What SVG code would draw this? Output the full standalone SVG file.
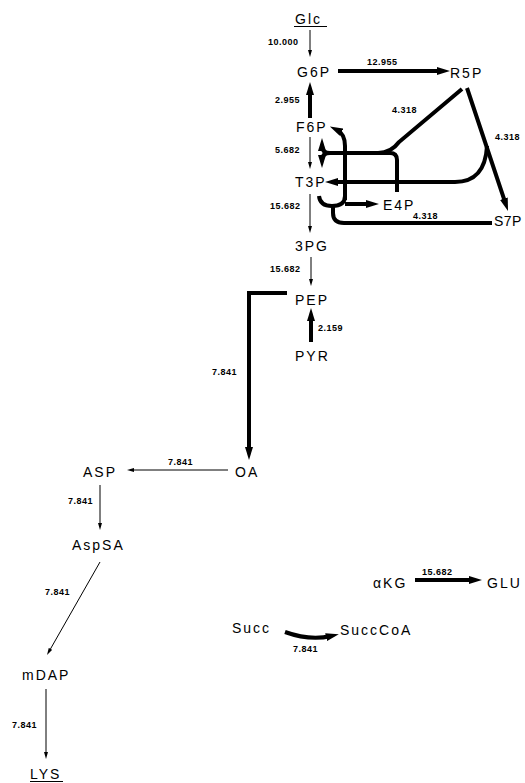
<svg xmlns="http://www.w3.org/2000/svg" width="525" height="783" viewBox="0 0 525 783">
<style>
.n{font-family:"Liberation Sans","DejaVu Sans",sans-serif;font-size:14px;letter-spacing:2px;fill:#000}
.v{font-family:"Liberation Sans","DejaVu Sans",sans-serif;font-size:9px;font-weight:bold;letter-spacing:0.5px;fill:#000}
.th{fill:none;stroke:#000;stroke-width:1}
.tk{fill:none;stroke:#000;stroke-width:4}
</style>
<defs>
<marker id="ak" markerUnits="userSpaceOnUse" markerWidth="13" markerHeight="8" refX="5" refY="4" orient="auto"><path d="M0,0 L13,4 L0,8 z" fill="#000"/></marker>
<marker id="an" markerUnits="userSpaceOnUse" markerWidth="7" markerHeight="4" refX="3" refY="2" orient="auto"><path d="M0,0 L7,2 L0,4 z" fill="#000"/></marker>
</defs>
<rect width="525" height="783" fill="#fff"/>
<g id="connectors">
<path class="th" d="M310,30 L310,53" marker-end="url(#an)"/>
<path class="tk" d="M338,71 L442,71" marker-end="url(#ak)"/>
<path class="tk" d="M310,118 L310,90" marker-end="url(#ak)"/>
<path class="th" d="M310,137 L310,165" marker-end="url(#an)"/>
<path class="th" d="M310,194 L310,229" marker-end="url(#an)"/>
<path class="th" d="M311,257 L311,282" marker-end="url(#an)"/>
<path class="tk" d="M311,342 L311,316" marker-end="url(#ak)"/>
<path class="tk" d="M287,293 L249,293 L249,452" marker-end="url(#ak)"/>
<path class="th" d="M228,470 L131,470" marker-end="url(#an)"/>
<path class="th" d="M100,485 L100,526" marker-end="url(#an)"/>
<path class="th" d="M100,562 L49,651.5" marker-end="url(#an)"/>
<path class="th" d="M46,689 L46,755" marker-end="url(#an)"/>
<path class="tk" d="M415,580 L474,580" marker-end="url(#ak)"/>
<path class="tk" d="M285,632 Q310,641 331,636" marker-end="url(#ak)"/>
<path class="tk" d="M467,88 L505.5,203.4" marker-end="url(#ak)"/>
<path class="tk" d="M462,89 L399,142 Q391,153 378,153"/>
<path class="tk" d="M330,153 L390,153 Q397,153 397,160 L397,192"/>
<path class="tk" d="M330,153 Q322,153 322,146" marker-end="url(#ak)"/>
<path class="tk" d="M330,153 Q322,153 322,160" marker-end="url(#ak)"/>
<path class="tk" d="M487,146 Q485,182 455,182 L333,182" marker-end="url(#ak)"/>
<path class="tk" d="M345,200 L345,146 Q345,134 337,130" marker-end="url(#ak)"/>
<path class="tk" d="M319,196 Q320,206 332,206 Q345,206 345,196"/>
<path class="tk" d="M345,204 L371,204" marker-end="url(#ak)"/>
<path class="tk" d="M492,223 L344,223 Q333,223 333,213 L333,206"/>
</g>
<g id="labels">
<text class="v" x="268" y="45">10.000</text>
<text class="v" x="367" y="65">12.955</text>
<text class="v" x="275" y="103">2.955</text>
<text class="v" x="392" y="113">4.318</text>
<text class="v" x="275" y="153">5.682</text>
<text class="v" x="495" y="140">4.318</text>
<text class="v" x="413" y="219">4.318</text>
<text class="v" x="270" y="209">15.682</text>
<text class="v" x="270" y="272">15.682</text>
<text class="v" x="318" y="331">2.159</text>
<text class="v" x="212" y="375">7.841</text>
<text class="v" x="168" y="465">7.841</text>
<text class="v" x="68" y="504">7.841</text>
<text class="v" x="45" y="595">7.841</text>
<text class="v" x="12" y="728">7.841</text>
<text class="v" x="422" y="575">15.682</text>
<text class="v" x="293" y="652">7.841</text>
</g>
<g id="Glc"><text class="n" x="295" y="24">Glc</text><line x1="294" y1="26.5" x2="327" y2="26.5" stroke="#000" stroke-width="1"/></g>
<g id="G6P"><text class="n" x="297" y="77">G6P</text></g>
<g id="R5P"><text class="n" x="450" y="78">R5P</text></g>
<g id="F6P"><text class="n" x="296" y="132">F6P</text></g>
<g id="T3P"><text class="n" x="295" y="187">T3P</text></g>
<g id="E4P"><text class="n" x="383" y="210">E4P</text></g>
<g id="S7P"><text class="n" x="494" y="226" style="letter-spacing:0.5px">S7P</text></g>
<g id="3PG"><text class="n" x="295" y="251">3PG</text></g>
<g id="PEP"><text class="n" x="295" y="305">PEP</text></g>
<g id="PYR"><text class="n" x="295" y="361">PYR</text></g>
<g id="OA"><text class="n" x="235" y="477">OA</text></g>
<g id="ASP"><text class="n" x="83" y="477">ASP</text></g>
<g id="AspSA"><text class="n" x="72" y="550">AspSA</text></g>
<g id="mDAP"><text class="n" x="22" y="680">mDAP</text></g>
<g id="LYS"><text class="n" x="30" y="779">LYS</text><line x1="30" y1="781.5" x2="63" y2="781.5" stroke="#000" stroke-width="1"/></g>
<g id="aKG"><text class="n" x="373" y="588">αKG</text></g>
<g id="GLU"><text class="n" x="487" y="588">GLU</text></g>
<g id="Succ"><text class="n" x="232" y="633">Succ</text></g>
<g id="SuccCoA"><text class="n" x="340" y="635">SuccCoA</text></g>
</svg>
